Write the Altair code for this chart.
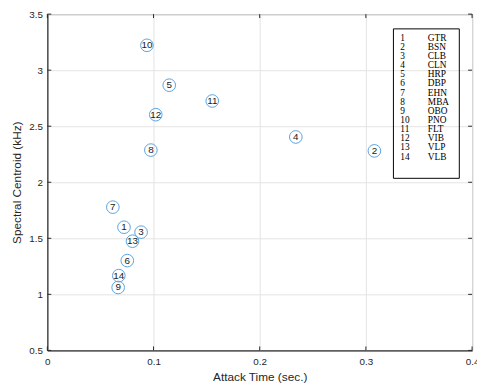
import altair as alt
import pandas as pd

ids = [1, 2, 3, 4, 5, 6, 7, 8, 9, 10, 11, 12, 13, 14]
names = ["GTR", "BSN", "CLB", "CLN", "HRP", "DBP", "EHN", "MBA", "OBO", "PNO", "FLT", "VIB", "VLP", "VLB"]
attack = [0.0722, 0.308, 0.0883, 0.234, 0.1148, 0.0753, 0.0617, 0.0975, 0.0667, 0.0938, 0.1553, 0.1021, 0.0802, 0.0673]
centroid = [1.599, 2.28, 1.555, 2.404, 2.866, 1.301, 1.778, 2.287, 1.061, 3.222, 2.725, 2.603, 1.474, 1.167]
x_ticks = [0, 0.1, 0.2, 0.3, 0.4]
y_ticks = [0.5, 1, 1.5, 2, 2.5, 3, 3.5]

df = pd.DataFrame({"id": ids, "name": names, "attack": attack, "centroid": centroid})
df["label"] = df["id"].astype(str)
dfx = pd.DataFrame({"t": x_ticks})
dfy = pd.DataFrame({"t": y_ticks})

xs = alt.Scale(domain=[0, 0.4], nice=False)
ys = alt.Scale(domain=[0.5, 3.5], nice=False)

base = alt.Chart(df)

circles = base.mark_point(shape="circle", size=165, filled=False, stroke="#5AA2DC",
                          strokeWidth=1, opacity=1).encode(
    x=alt.X("attack:Q", scale=xs,
            axis=alt.Axis(title="Attack Time (sec.)", values=x_ticks,
                          format="~g", labelFlush=False)),
    y=alt.Y("centroid:Q", scale=ys,
            axis=alt.Axis(title="Spectral Centroid (kHz)", values=y_ticks,
                          format="~g", labelFlush=False)),
)

nums = base.mark_text(font="Liberation Sans", fontSize=10, color="#1a1a1a").encode(
    x=alt.X("attack:Q", scale=xs),
    y=alt.Y("centroid:Q", scale=ys),
    text="label:N",
)

tick_style = dict(color="#262626", strokeWidth=1)
tb = alt.Chart(dfx).mark_rule(**tick_style).encode(
    x=alt.X("t:Q", scale=xs), y=alt.value(342), y2=alt.value(338))
tt = alt.Chart(dfx).mark_rule(**tick_style).encode(
    x=alt.X("t:Q", scale=xs), y=alt.value(0), y2=alt.value(4))
tl = alt.Chart(dfy).mark_rule(**tick_style).encode(
    y=alt.Y("t:Q", scale=ys), x=alt.value(0), x2=alt.value(4))
tr = alt.Chart(dfy).mark_rule(**tick_style).encode(
    y=alt.Y("t:Q", scale=ys), x=alt.value(432), x2=alt.value(428))

points = alt.layer(circles, nums, tb, tt, tl, tr)

box = alt.Chart(pd.DataFrame({"a": [0]})).mark_rect(fill=None, stroke="black", strokeWidth=1).encode(
    x=alt.value(352), x2=alt.value(419), y=alt.value(15), y2=alt.value(167)
)

leg_y = alt.Y("id:O", scale=alt.Scale(type="point", range=[24, 145], padding=0), axis=None)
leg_nums = base.mark_text(font="Liberation Serif", fontSize=9.5, align="left", baseline="middle",
                          color="black").encode(
    x=alt.value(359), y=leg_y, text="label:N")
leg_names = base.mark_text(font="Liberation Serif", fontSize=9.5, align="left", baseline="middle",
                           color="black").encode(
    x=alt.value(387), y=leg_y, text="name:N")

legend = alt.layer(leg_nums, leg_names)

chart = alt.layer(points, box, legend).resolve_scale(y="independent").properties(
    width=432, height=342,
    autosize=alt.AutoSizeParams(type="none"),
    padding={"left": 40, "top": 3, "right": 5, "bottom": 34},
).configure_view(stroke="#262626", strokeWidth=1).configure_axis(
    grid=True, gridColor="#e3e3e3", gridWidth=1,
    domainColor="#262626", domainWidth=1,
    ticks=False,
    labelFont="Liberation Sans", labelFontSize=10, labelColor="#262626",
    titleFont="Liberation Sans", titleFontSize=12, titleColor="#262626", titleFontWeight="normal",
).configure_axisX(labelPadding=6, titlePadding=6).configure_axisY(labelPadding=5, titlePadding=5)

chart.save("out.html", embed_options={"renderer": "svg", "actions": False})
